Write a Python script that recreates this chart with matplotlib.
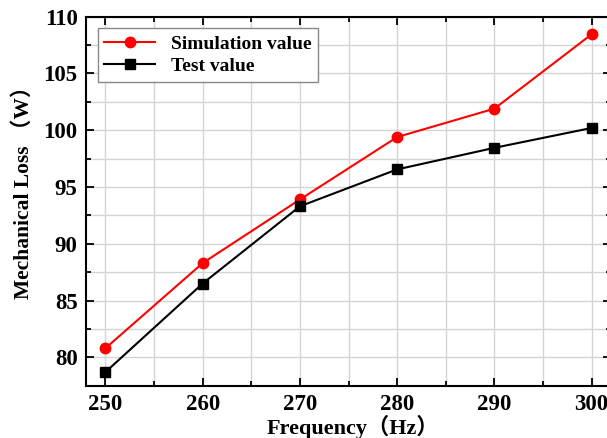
import matplotlib
matplotlib.use('Agg')
import matplotlib.pyplot as plt
from matplotlib.ticker import MultipleLocator

# Frequency (Hz) and mechanical loss (W)
freq = [250, 260, 270, 280, 290, 300]
sim_loss = [80.8, 88.3, 93.9, 99.4, 101.9, 108.45]
test_loss = [78.7, 86.5, 93.3, 96.55, 98.45, 100.2]

plt.rcParams['font.family'] = ['Liberation Serif', 'Noto Sans CJK SC']
plt.rcParams['font.weight'] = 'bold'

fig = plt.figure(figsize=(6.07, 4.38), dpi=100)
ax = fig.add_axes([0.1417, 0.1194, 0.865, 0.8425])

ax.plot(freq, sim_loss, color='red', marker='o', markersize=7.5, lw=1.5,
        label='Simulation value')
ax.plot(freq, test_loss, color='black', marker='s', markersize=6.5, lw=1.5,
        label='Test value')

ax.set_xlim(248, 302)
ax.set_ylim(77.5, 110)
ax.xaxis.set_major_locator(MultipleLocator(10))
ax.xaxis.set_minor_locator(MultipleLocator(5))
ax.yaxis.set_major_locator(MultipleLocator(5))
ax.yaxis.set_minor_locator(MultipleLocator(2.5))

ax.grid(True, which='both', color='#d4d4d4', lw=1)
ax.set_axisbelow(True)
ax.tick_params(which='both', direction='in', top=True, right=True,
               labelsize=16.5, width=1.3)
ax.tick_params(which='major', length=6)
ax.tick_params(which='minor', length=3.5)
ax.tick_params(axis='x', pad=6)
ax.tick_params(axis='y', pad=6)
for lab in ax.get_xticklabels() + ax.get_yticklabels():
    lab.set_fontweight('bold')
for s in ax.spines.values():
    s.set_linewidth(1.5)

ax.set_xlabel('Frequency（Hz）', fontsize=16, fontweight='bold')
ax.set_ylabel('Mechanical Loss （W）', fontsize=15.5, fontweight='bold')
ax.xaxis.set_label_coords(0.509, -0.08)
ax.yaxis.set_label_coords(-0.1, 0.537)

leg = ax.legend(loc='upper left', fancybox=False,
                edgecolor='#888888', framealpha=1, borderaxespad=0.6,
                handlelength=2.6, borderpad=0.35, labelspacing=0.25,
                prop={'weight': 'bold', 'size': 14})
leg.get_frame().set_linewidth(1)

fig.savefig('out.png', dpi=100)
